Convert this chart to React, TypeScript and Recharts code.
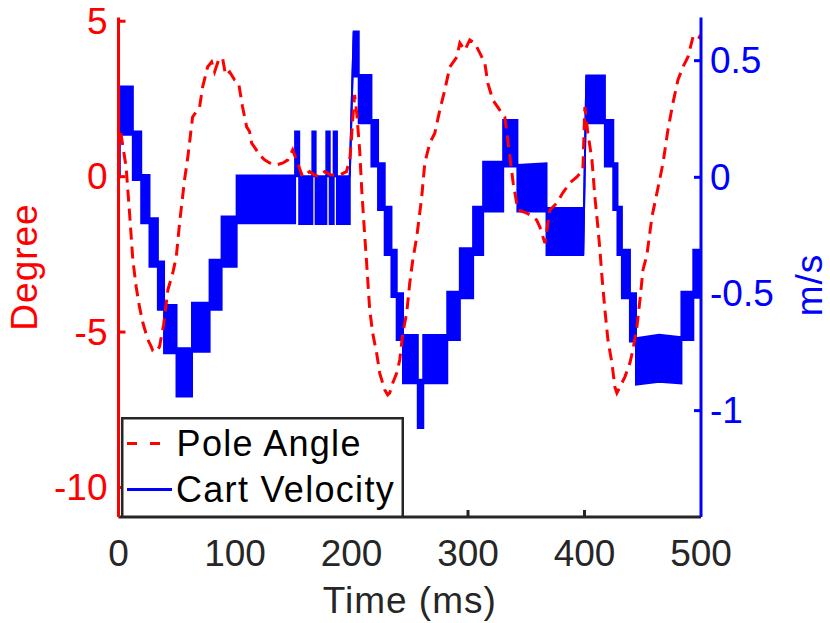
import React from 'react';
import { ComposedChart, Line, Area, XAxis, YAxis, Legend } from 'recharts';

const FONT = '"Liberation Sans", Arial, Helvetica, sans-serif';
const AXIS_GREY = '#262626';
const RED = '#ff0000';
const BLUE = '#0000ff';

const timeTicks = [0, 100, 200, 300, 400, 500];
const degreeTicks = [-10, -5, 0, 5];
const speedTicks = [-1, -0.5, 0, 0.5];

// pole angle (degree)
const angleTime = [
  2, 6.5, 9.5, 12.3, 15.2, 18, 20.9, 25.2, 28.1, 29.5, 32.4, 35.2, 38.7, 42.4, 46.6, 49.6,
  52.4, 56.7, 59.5, 63.6, 69.6, 72.2, 76.5, 79.9, 82.5, 85.9, 89.3, 91.9, 95.4, 99.7, 103.1,
  106.5, 110, 112.5, 114.3, 118.3, 121.1, 125.4, 129.7, 135.5, 141.2, 145.4, 149.5, 158.1,
  164.1, 168.4, 172.7, 177, 182.7, 189.9, 195.6, 198.5, 199.9, 201, 202.7, 204.5, 207, 208.8,
  211.3, 213.1, 215.6, 218.2, 221.6, 224.2, 228.5, 231.1, 232.8, 235.4, 238.8, 241.4, 244,
  247.4, 250, 252.6, 256, 260.3, 262.9, 267.2, 271.5, 275.8, 280.1, 284.4, 290.4, 293, 297.3,
  301.5, 305.8, 310.1, 314.4, 317, 321.3, 327.3, 331.6, 338.8, 342.8, 350.5, 358.8, 361.7,
  366, 370.3, 376.3, 381.4, 387.5, 393.5, 398.6, 400.3, 402.9, 406.4, 408.9, 411.5, 413.2,
  415, 417.5, 420.1, 423.5, 426.1, 427.8, 430.4, 434.7, 439, 441.6, 445, 447.6, 450.2, 453.6,
  457.9, 462.2, 467.4, 471.6, 475.9, 480.2, 484.5, 488.8, 493.1, 497.4, 499.5,
];
const angleDeg = [
  1.4, 0.32, -1.17, -2.68, -3.55, -4.19, -4.7, -5.25, -5.47, -5.6, -5.63, -5.47, -4.77, -3.64,
  -3.1, -2.58, -1.5, -0.1, 0.63, 1.92, 2.24, 2.88, 3.53, 3.69, 3.37, 3.75, 3.82, 3.27, 3.37,
  3.11, 3.01, 2.24, 1.6, 1.45, 1.08, 0.86, 0.7, 0.54, 0.44, 0.38, 0.44, 0.54, 0.86, 0.0, 0.16,
  0.05, 0.0, 0.16, 0.05, 0.05, 0.16, 0.54, 1.18, 1.82, 2.63, 2.04, 0.86, -0.43, -1.87, -2.84,
  -4.27, -5.04, -5.68, -6.32, -6.86, -7.02, -6.96, -6.64, -6.32, -5.9, -5.04, -4.38, -3.42,
  -2.68, -1.94, -0.65, 0.44, 1.08, 1.4, 2.14, 2.79, 3.53, 3.85, 4.3, 4.07, 4.4, 4.3, 3.98,
  3.66, 3.01, 2.47, 2.14, 1.92, -0.21, -1.07, -1.17, -1.39, -1.62, -2.14, -1.07, -0.85, -0.52,
  -0.2, -0.01, 0.22, 2.24, 1.4, 0.54, -0.65, -1.62, -2.35, -3.22, -4.28, -5.25, -5.99, -6.77,
  -6.96, -6.77, -6.44, -5.99, -5.57, -4.83, -3.96, -3.0, -2.51, -1.29, -0.52, 0.44, 1.5, 2.37,
  3.11, 3.53, 3.85, 4.49, 4.4, 4.56,
];

// cart velocity (m/s): fast switching drawn as a band between a low and a high envelope
const velTime = [
  0, 0.9, 0.9, 12.3, 12.3, 19.5, 19.5, 26.6, 26.6, 33.8, 33.8, 39.1, 39.1, 49.8, 49.8, 63.1,
  63.1, 78.2, 78.2, 88.5, 88.5, 101.4, 101.4, 151.6, 151.6, 155.1, 155.1, 166.4, 166.4, 169.2,
  169.2, 178.4, 178.4, 181.3, 181.3, 184.7, 184.7, 187.5, 187.5, 198.5, 198.5, 201.9, 201.9,
  206.2, 206.2, 217.1, 217.1, 222.8, 222.8, 228.5, 228.5, 234.3, 234.3, 238.8, 238.8, 244.2,
  244.2, 256.9, 256.9, 261.6, 261.6, 282.2, 282.2, 293, 293, 304.4, 304.4, 313, 313, 330.2,
  330.2, 342.4, 342.4, 367.4, 367.4, 398.9, 398.9, 401.6, 401.6, 417.5, 417.5, 424.7, 424.7,
  428.3, 428.3, 432.1, 432.1, 439, 439, 444.2, 444.2, 464, 483.2, 483.2, 493.4, 493.4, 500,
];
const velLow = [
  0, 0, 0.182, 0.182, -0.011, -0.011, -0.197, -0.197, -0.383, -0.383, -0.568, -0.568, -0.754,
  -0.754, -0.94, -0.94, -0.748, -0.748, -0.568, -0.568, -0.383, -0.383, -0.197, -0.197, 0.005,
  0.005, -0.2, -0.2, 0.005, 0.005, -0.2, -0.2, 0.005, 0.005, -0.2, -0.2, 0.005, 0.005, -0.2,
  -0.2, 0.005, 0.625, 0.432, 0.432, 0.232, 0.232, 0.046, 0.046, -0.14, -0.14, -0.333, -0.333,
  -0.513, -0.513, -0.697, -0.697, -0.883, -0.883, -1.075, -1.075, -0.883, -0.883, -0.697,
  -0.697, -0.518, -0.518, -0.333, -0.333, -0.147, -0.147, 0.046, 0.046, -0.147, -0.147, -0.333,
  -0.333, -0.333, 0.436, 0.232, 0.232, 0.046, 0.046, -0.14, -0.14, -0.333, -0.333, -0.518,
  -0.518, -0.704, -0.704, -0.889, -0.876, -0.883, -0.697, -0.697, -0.516, -0.516,
];
const velHigh = [
  0, 0, 0.389, 0.389, 0.196, 0.196, 0.01, 0.01, -0.175, -0.175, -0.361, -0.361, -0.547,
  -0.547, -0.733, -0.733, -0.538, -0.538, -0.353, -0.353, -0.168, -0.168, 0.008, 0.008, 0.196,
  0.196, 0.005, 0.005, 0.196, 0.196, 0.005, 0.005, 0.196, 0.196, 0.005, 0.005, 0.196, 0.196,
  0.005, 0.005, 0.005, 0.625, 0.625, 0.625, 0.439, 0.439, 0.246, 0.246, 0.06, 0.06, -0.126,
  -0.126, -0.311, -0.311, -0.497, -0.497, -0.676, -0.676, -0.868, -0.868, -0.676, -0.676,
  -0.49, -0.49, -0.304, -0.304, -0.126, -0.126, 0.067, 0.067, 0.246, 0.246, 0.053, 0.06,
  -0.132, -0.132, -0.333, 0.436, 0.436, 0.436, 0.246, 0.246, 0.06, 0.06, -0.126, -0.126,
  -0.311, -0.311, -0.497, -0.497, -0.69, -0.675, -0.685, -0.49, -0.49, -0.311, -0.311,
];

const angleData = angleTime.map((t, i) => ({ t, deg: angleDeg[i] }));
const velData = velTime.map((t, i) => ({ t, vel: [velLow[i], velHigh[i]] }));

const fmt = (v: number) => String(v);

// MATLAB style: tick marks point into the plot box
const LeftTick = ({ x, y, payload }: any) => (
  <g>
    <line x1={x + 11} x2={x + 18} y1={y} y2={y} stroke={RED} strokeWidth={3} />
    <text x={x} y={y} textAnchor="end" dominantBaseline="central" fill={RED}
      fontSize={37} fontFamily={FONT}>{fmt(payload.value)}</text>
  </g>
);

const RightTick = ({ x, y, payload }: any) => (
  <g>
    <line x1={x - 9} x2={x - 16} y1={y} y2={y} stroke={BLUE} strokeWidth={3} />
    <text x={x} y={y} textAnchor="start" dominantBaseline="central" fill={BLUE}
      fontSize={37} fontFamily={FONT}>{fmt(payload.value)}</text>
  </g>
);

const BottomTick = ({ x, y, payload }: any) => {
  const edge = payload.value === 0 || payload.value === 500;
  return (
    <g>
      {!edge && <line x1={x} x2={x} y1={y - 36} y2={y - 43} stroke={AXIS_GREY} strokeWidth={3} />}
      <text x={x} y={y} textAnchor="middle" dominantBaseline="central" fill={AXIS_GREY}
        fontSize={37} fontFamily={FONT}>{payload.value}</text>
    </g>
  );
};

const TopTick = ({ x, y, payload }: any) => {
  if (payload.value === 0 || payload.value === 500) return <g />;
  return <line x1={x} x2={x} y1={y} y2={y + 7} stroke={AXIS_GREY} strokeWidth={3} />;
};

const AxisTitle = ({ px, py, text, color, rotate }: any) => (
  <text x={px} y={py} textAnchor="middle" fill={color} fontSize={37} fontFamily={FONT}
    letterSpacing={1} transform={rotate ? `rotate(-90 ${px} ${py})` : undefined}>{text}</text>
);

const LegendBox = () => (
  <svg width={283} height={101} style={{ display: 'block' }}>
    <rect x={1.25} y={1.25} width={280.5} height={98.5} fill="#fff" stroke={AXIS_GREY} strokeWidth={2.5} />
    <line x1={6} x2={50} y1={26.6} y2={26.6} stroke={RED} strokeWidth={3} strokeDasharray="10 13" />
    <text x={55.6} y={38.8} fontSize={36} fontFamily={FONT} letterSpacing={1.3} fill="#000">Pole Angle</text>
    <line x1={6} x2={51} y1={72.6} y2={72.6} stroke={BLUE} strokeWidth={3} />
    <text x={55} y={85.3} fontSize={36} fontFamily={FONT} letterSpacing={1.3} fill="#000">Cart Velocity</text>
  </svg>
);

export default function App() {
  return (
    <div style={{ position: 'absolute', left: 0, top: 0, width: 830, height: 623, background: '#fff' }}>
      <ComposedChart width={830} height={623} margin={{ top: 17.5, right: 0, bottom: 0, left: 0 }}>
        <XAxis
          xAxisId="time" dataKey="t" type="number" domain={[0, 500]} ticks={timeTicks}
          allowDataOverflow height={106} tickSize={0} tickMargin={36}
          axisLine={{ stroke: AXIS_GREY, strokeWidth: 3 }} tick={<BottomTick />}
          label={<AxisTitle px={409.75} py={613} text="Time (ms)" color={AXIS_GREY} />}
        />
        <XAxis
          xAxisId="top" orientation="top" dataKey="t" type="number" domain={[0, 500]}
          ticks={timeTicks} allowDataOverflow height={0} tickSize={0} tickMargin={0}
          axisLine={{ stroke: AXIS_GREY, strokeWidth: 3 }} tick={<TopTick />}
        />
        <YAxis
          yAxisId="deg" orientation="left" type="number" domain={[-10.95, 5.12]} ticks={degreeTicks}
          allowDataOverflow width={118.5} tickSize={0} tickMargin={11}
          axisLine={{ stroke: RED, strokeWidth: 3 }} tick={<LeftTick />}
          label={<AxisTitle px={37} py={267} text="Degree" color={RED} rotate />}
        />
        <YAxis
          yAxisId="vel" orientation="right" type="number" domain={[-1.456, 0.685]} ticks={speedTicks}
          allowDataOverflow width={129} tickSize={0} tickMargin={9}
          axisLine={{ stroke: BLUE, strokeWidth: 3 }} tick={<RightTick />}
          label={<AxisTitle px={822} py={285} text="m/s" color={BLUE} rotate />}
        />
        <Line
          data={angleData} xAxisId="time" yAxisId="deg" dataKey="deg" name="Pole Angle"
          type="linear" stroke={RED} strokeWidth={3} strokeDasharray="12 7"
          dot={false} activeDot={false} isAnimationActive={false}
        />
        <Area
          data={velData} xAxisId="time" yAxisId="vel" dataKey="vel" name="Cart Velocity"
          type="linear" stroke={BLUE} strokeWidth={2} fill={BLUE} fillOpacity={1}
          dot={false} activeDot={false} isAnimationActive={false}
        />
        <Legend
          layout="horizontal" verticalAlign="middle" align="center"
          wrapperStyle={{ left: 120.7, top: 416.7, width: 283, height: 101 }}
          content={() => <LegendBox />}
        />
      </ComposedChart>
    </div>
  );
}
